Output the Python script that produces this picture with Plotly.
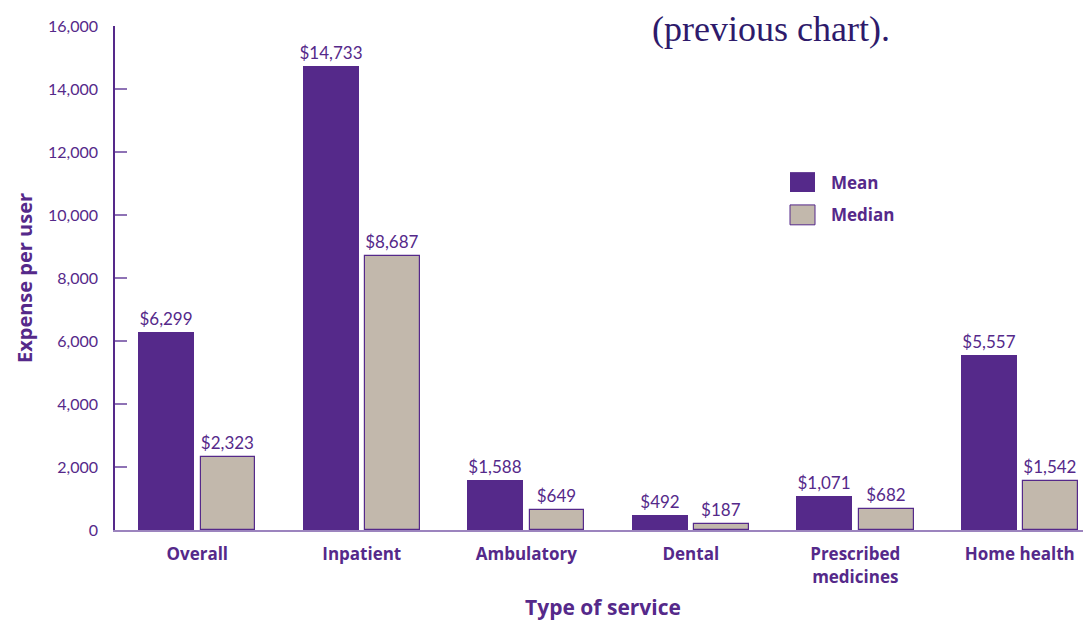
import plotly.graph_objects as go

categories = ["Overall", "Inpatient", "Ambulatory", "Dental", "Prescribed<br>medicines", "Home health"]
mean_values = [6299, 14733, 1588, 492, 1071, 5557]
median_values = [2323, 8687, 649, 187, 682, 1542]
y_ticks = [0, 2000, 4000, 6000, 8000, 10000, 12000, 14000, 16000]

PURPLE = "#55298A"
TAN = "#C2B8AC"
FONT = "Lato, 'Open Sans', sans-serif"
BFONT = "'Open Sans', Lato, sans-serif"

x_idx = list(range(len(categories)))

fig = go.Figure()
fig.add_trace(go.Bar(
    x=x_idx, y=mean_values, name="Mean",
    width=0.34, offset=-0.358,
    marker=dict(color=PURPLE, line=dict(width=0)),
    texttemplate="$%{y:,}", textposition="outside", constraintext="none",
    textfont=dict(size=17, color=PURPLE, family=FONT),
    cliponaxis=False, showlegend=False,
))
fig.add_trace(go.Bar(
    x=x_idx, y=median_values, name="Median",
    width=0.334, offset=0.02,
    marker=dict(color=TAN, line=dict(width=1.2, color=PURPLE)),
    texttemplate="$%{y:,}", textposition="outside", constraintext="none",
    textfont=dict(size=17, color=PURPLE, family=FONT),
    cliponaxis=False, showlegend=False,
))

fig.update_layout(
    width=1091, height=620,
    margin=dict(l=107, r=8, t=15, b=98),
    paper_bgcolor="white", plot_bgcolor="white",
    font=dict(family=FONT, color=PURPLE),
    bargap=0, barmode="overlay",
)
fig.update_xaxes(
    range=[-0.5, 5.433],
    tickmode="array", tickvals=x_idx, ticktext=["<b>%s</b>" % c for c in categories],
    tickfont=dict(size=17, color=PURPLE, family=BFONT),
    showgrid=False, zeroline=False,
    showline=True, linecolor="#9C84BE", linewidth=2,
    ticks="", ticklabelstandoff=8,
    title=dict(text="<b>Type of service</b>", font=dict(size=21, color=PURPLE, family=BFONT), standoff=14),
)
fig.update_yaxes(
    range=[0, 16000],
    tickmode="array", tickvals=y_ticks, ticktext=[f"{v:,}" for v in y_ticks],
    tickfont=dict(size=16, color=PURPLE, family=FONT),
    showgrid=False, zeroline=False,
    showline=True, linecolor=PURPLE, linewidth=1.5,
    ticks="inside", ticklen=12, tickcolor="#8E72B5", tickwidth=1.5,
    ticklabelstandoff=12,
    title=dict(text="<b>Expense per user</b>", font=dict(size=20, color=PURPLE, family=BFONT), standoff=10),
)

# legend drawn manually
legend_items = [("Mean", PURPLE, 0), ("Median", TAN, 1)]
for label, color, i in legend_items:
    y0 = 1 - (170 + i * 33 - 23) / 507
    y1 = 1 - (190 + i * 33 - 23) / 507
    fig.add_shape(type="rect", xref="paper", yref="paper",
                  x0=(790 - 115) / 976, x1=(815 - 115) / 976, y0=y1, y1=y0,
                  fillcolor=color, line=dict(color=PURPLE, width=1 if i else 0))
    fig.add_annotation(xref="paper", yref="paper", x=(829 - 115) / 976, y=(y0 + y1) / 2,
                       text="<b>%s</b>" % label, showarrow=False, xanchor="left", yanchor="middle",
                       font=dict(size=17, color=PURPLE, family=BFONT))

# overlapping page text
fig.add_annotation(xref="paper", yref="paper", x=(650 - 115) / 976, y=1 + (23 - 26) / 507,
                   text="(previous chart).", showarrow=False, xanchor="left", yanchor="middle",
                   font=dict(size=36, color="#2E1A6B", family="'Liberation Serif', serif"))

fig.write_html("out.html")
